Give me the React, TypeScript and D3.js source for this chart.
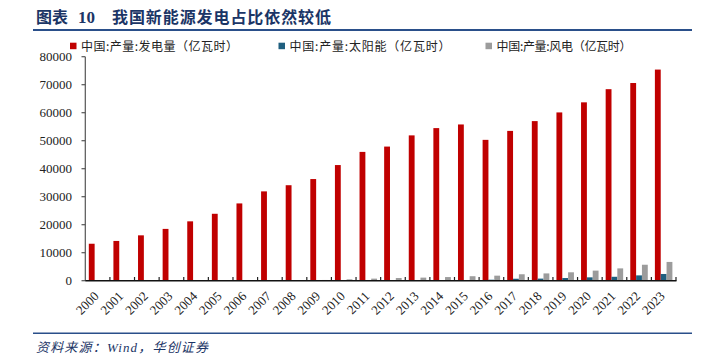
import React from "react";
import * as d3 from "d3";

const years = ["2000","2001","2002","2003","2004","2005","2006","2007","2008","2009","2010","2011","2012","2013","2014","2015","2016","2017","2018","2019","2020","2021","2022","2023"];
const totalGen = [13200,14200,16200,18500,21200,23900,27600,31900,34100,36300,41300,46000,47900,51900,54500,55800,50300,53500,57000,60100,63700,68400,70600,75400];
const solarGen = [0,0,0,0,0,0,0,0,0,0,0,0,0,0,0,120,350,700,750,950,1200,1400,1900,2400];
const windGen = [0,0,0,0,0,0,30,60,130,260,490,740,960,1100,1300,1600,1800,2300,2600,3000,3600,4400,5700,6700];
const yTicks = [0,10000,20000,30000,40000,50000,60000,70000,80000];
const seriesNames = ["中国:产量:发电量（亿瓦时）","中国:产量:太阳能（亿瓦时）","中国:产量:风电（亿瓦时）"];
const seriesColors = ["#C00000","#1F5F7F","#9C9C9C"];

export default function App() {
  const W = 714, H = 355;
  const x = d3.scaleBand<string>().domain(years).range([85.3, 676]).paddingInner(0).paddingOuter(0);
  const x1 = d3.scaleBand<number>().domain([0,1,2]).range([3.5, 21]);
  const y = d3.scaleLinear().domain([0, 80000]).range([280.7, 56.7]);
  const data = [totalGen, solarGen, windGen];
  const navy = "#1b3566";
  const serif = "'Liberation Serif', 'Times New Roman', serif";
  const cjk = "'Noto Sans CJK SC', sans-serif";
  const legendX = [70, 278.5, 485.5];
  const legendW = [157, 161, 135];
  return (
    <svg width={W} height={H} style={{ position: "absolute", left: 0, top: 0, background: "#fff" }}>
      {/* title */}
      <text x={36} y={23} fontFamily={cjk} fontWeight="bold" fontSize={16} fill={navy}>图表</text>
      <text x={78} y={23} fontFamily={serif} fontWeight="bold" fontSize={17} fill={navy}>10</text>
      <text x={112} y={23} fontFamily={cjk} fontWeight="bold" fontSize={16} fill={navy} textLength={219} lengthAdjust="spacing">我国新能源发电占比依然较低</text>
      <line x1={33} x2={692} y1={30} y2={30} stroke="#2a4f8a" strokeWidth={2} />

      {/* legend */}
      {seriesNames.map((n, i) => (
        <g key={n}>
          <rect x={legendX[i]} y={42.7} width={6.5} height={6.5} fill={seriesColors[i]} />
          <text x={legendX[i] + 11} y={50.5} fontFamily={cjk} fontSize={12} fill="#222" textLength={legendW[i]} lengthAdjust="spacing">{n}</text>
        </g>
      ))}

      {/* bars */}
      {years.map((yr, i) => (
        <g key={yr} transform={`translate(${x(yr)},0)`}>
          {data.map((s, k) => (
            <rect key={k} x={x1(k)} width={x1.bandwidth()} y={y(s[i])} height={y(0) - y(s[i])} fill={seriesColors[k]} />
          ))}
        </g>
      ))}

      {/* y axis */}
      <line x1={85.3} x2={85.3} y1={56.7} y2={280.7} stroke="#555" strokeWidth={1.2} />
      {yTicks.map((t) => (
        <g key={t}>
          <line x1={81.5} x2={85.3} y1={y(t)} y2={y(t)} stroke="#555" strokeWidth={1.2} />
          <text x={72} y={y(t)} dy="0.3em" textAnchor="end" fontFamily={serif} fontSize={13} fill="#222">{t}</text>
        </g>
      ))}

      {/* x axis */}
      {years.map((yr) => (
        <line key={yr} x1={(x(yr) as number) + x.bandwidth()} x2={(x(yr) as number) + x.bandwidth()} y1={277} y2={280.7} stroke="#222" strokeWidth={1.2} />
      ))}
      <line x1={85.3} x2={676.5} y1={280.7} y2={280.7} stroke="#111" strokeWidth={1.4} />
      {years.map((yr) => {
        const cx = (x(yr) as number) + x.bandwidth() / 2 + 2;
        return (
          <text key={yr} transform={`translate(${cx},297) rotate(-45)`} textAnchor="end" fontFamily={serif} fontSize={13} fill="#222">{yr}</text>
        );
      })}

      {/* source */}
      <line x1={33} x2={692} y1={333.3} y2={333.3} stroke="#2a4f8a" strokeWidth={1.5} />
      <text x={36} y={352} fontFamily={cjk} fontStyle="italic" fontSize={13} fill={navy} textLength={172} lengthAdjust="spacing">
        资料来源：<tspan fontFamily={serif}>Wind</tspan>，华创证券
      </text>
    </svg>
  );
}
